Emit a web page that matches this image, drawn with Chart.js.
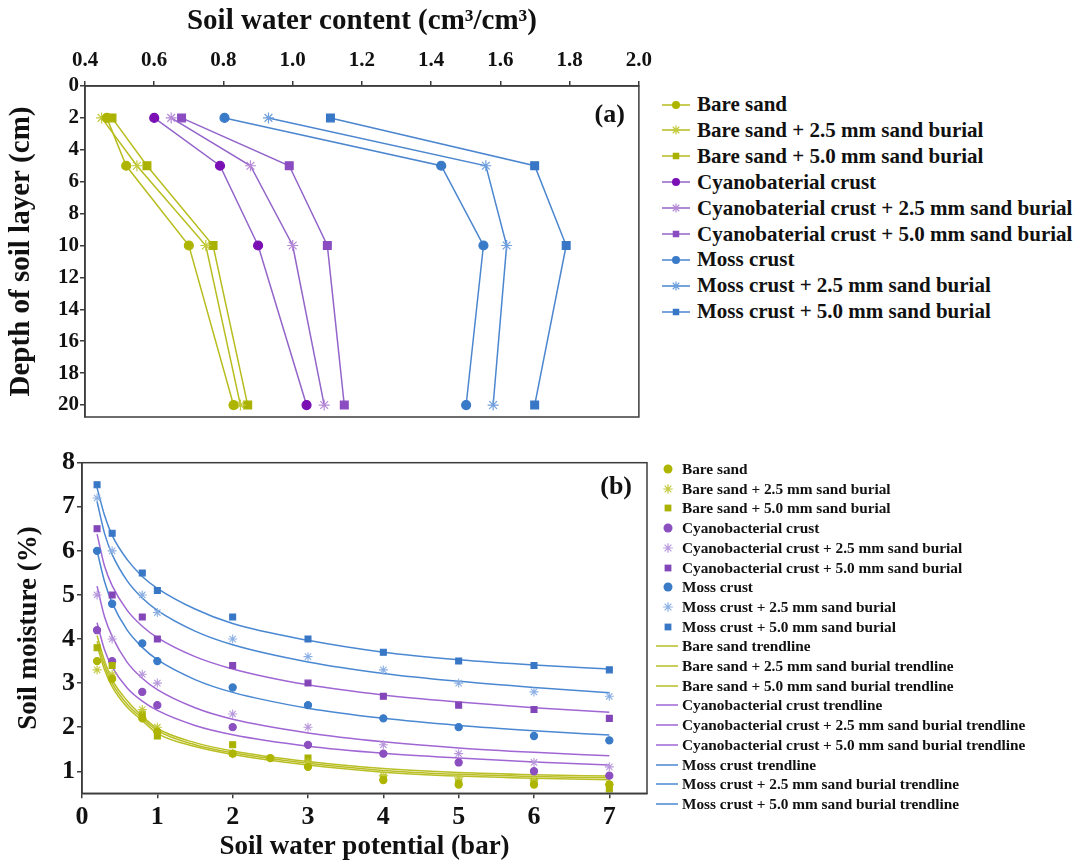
<!DOCTYPE html>
<html>
<head>
<meta charset="utf-8">
<script src="https://cdn.jsdelivr.net/npm/chart.js@4.4.0/dist/chart.umd.min.js"></script>
<style>
  body { margin: 0; background: #fff; width: 1074px; height: 863px; position: relative; overflow: hidden;
         font-family: 'Liberation Serif', 'Times New Roman', serif; }
  .box { position: absolute; }
  .legend { position: absolute; left: 0; top: 0; font-weight: bold; color: #111; white-space: nowrap; }
  .legend .row { position: absolute; display: flex; align-items: center; }
  .legend svg { flex: none; }
</style>
</head>
<body>
<div class="box" style="left:0;top:0;width:660px;height:440px"><canvas id="chartA"></canvas></div>
<div class="box" style="left:0;top:440px;width:660px;height:423px"><canvas id="chartB"></canvas></div>
<div class="legend" id="legendA"></div>
<div class="legend" id="legendB"></div>
<script>
// ---- panel (a): soil water content (cm3/cm3) at each depth ----
const depthCm = [2, 5, 10, 20];
const contentBare = [0.463, 0.519, 0.700, 0.829];
const contentBare25 = [0.448, 0.550, 0.749, 0.849];
const contentBare50 = [0.478, 0.579, 0.770, 0.870];
const contentCyano = [0.600, 0.790, 0.900, 1.040];
const contentCyano25 = [0.649, 0.878, 1.000, 1.091];
const contentCyano50 = [0.679, 0.990, 1.100, 1.149];
const contentMoss = [0.803, 1.429, 1.551, 1.501];
const contentMoss25 = [0.930, 1.558, 1.618, 1.579];
const contentMoss50 = [1.109, 1.699, 1.790, 1.699];
const depthTicks = [0, 2, 4, 6, 8, 10, 12, 14, 16, 18, 20];
const contentTicks = [0.4, 0.6, 0.8, 1.0, 1.2, 1.4, 1.6, 1.8, 2.0];

// ---- panel (b): soil moisture (%) against soil water potential (bar) ----
const potentialBar = [0.2, 0.4, 0.8, 1, 2, 3, 4, 5, 6, 7];
const potentialBareBar = [0.2, 0.4, 0.8, 1, 2, 2.5, 3, 4, 5, 6, 7];
const moistBare = [3.5, 3.1, 2.2, 1.9, 1.4, 1.3, 1.1, 0.8, 0.7, 0.7, 0.7];
const moistBare25 = [3.3, 3.2, 2.4, 2.0, 1.4, 1.2, 0.9, 0.85, 0.8, 0.7];
const moistBare50 = [3.8, 3.4, 2.3, 1.8, 1.6, 1.3, 0.85, 0.75, 0.75, 0.6];
const moistCyano = [4.2, 3.5, 2.8, 2.5, 2.0, 1.6, 1.4, 1.2, 1.0, 0.9];
const moistCyano25 = [5.0, 4.0, 3.2, 3.0, 2.3, 2.0, 1.6, 1.4, 1.2, 1.1];
const moistCyano50 = [6.5, 5.0, 4.5, 4.0, 3.4, 3.0, 2.7, 2.5, 2.4, 2.2];
const moistMoss = [6.0, 4.8, 3.9, 3.5, 2.9, 2.5, 2.2, 2.0, 1.8, 1.7];
const moistMoss25 = [7.2, 6.0, 5.0, 4.6, 4.0, 3.6, 3.3, 3.0, 2.8, 2.7];
const moistMoss50 = [7.5, 6.4, 5.5, 5.1, 4.5, 4.0, 3.7, 3.5, 3.4, 3.3];

// trendlines at these potentials
const trendBar = [0.2, 0.3, 0.4, 0.6, 0.8, 1, 1.5, 2, 3, 4, 5, 6, 7];
const trendBare = [3.95, 3.40, 3.00, 2.52, 2.20, 1.92, 1.60, 1.42, 1.18, 1.02, 0.93, 0.88, 0.85];
const trendBare25 = [3.85, 3.30, 2.92, 2.45, 2.15, 1.86, 1.56, 1.38, 1.14, 0.98, 0.89, 0.84, 0.81];
const trendBare50 = [4.08, 3.50, 3.08, 2.60, 2.25, 1.97, 1.65, 1.46, 1.22, 1.06, 0.97, 0.92, 0.89];
const trendCyano = [4.37, 3.75, 3.37, 2.89, 2.59, 2.38, 2.04, 1.83, 1.57, 1.41, 1.30, 1.21, 1.14];
const trendCyano25 = [5.20, 4.50, 4.06, 3.47, 3.11, 2.85, 2.44, 2.18, 1.87, 1.67, 1.53, 1.43, 1.35];
const trendCyano50 = [6.38, 5.65, 5.21, 4.65, 4.29, 4.03, 3.60, 3.32, 2.96, 2.73, 2.57, 2.44, 2.34];
const trendMoss = [6.00, 5.30, 4.82, 4.20, 3.81, 3.53, 3.08, 2.79, 2.43, 2.20, 2.04, 1.92, 1.82];
const trendMoss25 = [7.12, 6.39, 5.92, 5.32, 4.93, 4.65, 4.18, 3.87, 3.48, 3.22, 3.04, 2.90, 2.78];
const trendMoss50 = [7.43, 6.80, 6.35, 5.80, 5.42, 5.15, 4.68, 4.35, 3.97, 3.70, 3.53, 3.41, 3.32];
const moistTicks = [1, 2, 3, 4, 5, 6, 7, 8];
const potentialTicks = [0, 1, 2, 3, 4, 5, 6, 7];

const fontFamily = "'Liberation Serif', 'Times New Roman', serif";
const ink = '#111';
const axisColor = '#3c3c3c';

function font(size) { return { family: fontFamily, size: size, weight: 'bold' }; }
function pts(xs, ys) { return ys.map((y, i) => ({ x: xs[i], y: y })); }

// box round the plot area plus the (a)/(b) tag
const framePlugin = {
  id: 'frame',
  afterDraw(chart, args, opts) {
    const { ctx, chartArea: a } = chart;
    ctx.save();
    ctx.strokeStyle = axisColor;
    ctx.lineWidth = 1.5;
    ctx.strokeRect(a.left, a.top, a.right - a.left, a.bottom - a.top);
    ctx.font = 'bold 26px ' + fontFamily;
    ctx.fillStyle = ink;
    ctx.textAlign = 'right';
    ctx.textBaseline = 'middle';
    ctx.fillText(opts.label, a.right - opts.dx, a.top + opts.dy);
    ctx.restore();
  }
};

function axis(extra) {
  return Object.assign({
    type: 'linear',
    grid: { drawOnChartArea: false, tickLength: 5, color: axisColor, lineWidth: 1.5 },
    border: { color: axisColor, width: 1.5 }
  }, extra);
}

// ---------- panel (a) ----------
const seriesA = [
  { label: 'Bare sand', data: contentBare, color: '#aeb500', line: '#b7bd1e', style: 'circle' },
  { label: 'Bare sand + 2.5 mm sand burial', data: contentBare25, color: '#c3ca3c', line: '#b7bd1e', style: 'star' },
  { label: 'Bare sand + 5.0 mm sand burial', data: contentBare50, color: '#a9b200', line: '#b7bd1e', style: 'rect' },
  { label: 'Cyanobaterial crust', data: contentCyano, color: '#7a0fb4', line: '#9364c9', style: 'circle' },
  { label: 'Cyanobaterial crust + 2.5 mm sand burial', data: contentCyano25, color: '#b68ad6', line: '#9364c9', style: 'star' },
  { label: 'Cyanobaterial crust + 5.0 mm sand burial', data: contentCyano50, color: '#8a4cc0', line: '#9364c9', style: 'rect' },
  { label: 'Moss crust', data: contentMoss, color: '#3a7bc8', line: '#4b86cf', style: 'circle' },
  { label: 'Moss crust + 2.5 mm sand burial', data: contentMoss25, color: '#6f9fdc', line: '#4b86cf', style: 'star' },
  { label: 'Moss crust + 5.0 mm sand burial', data: contentMoss50, color: '#3877c6', line: '#4b86cf', style: 'rect' }
];
const radiusA = { circle: 4.5, rect: 5.5, star: 5.5 };

new Chart(document.getElementById('chartA'), {
  type: 'scatter',
  data: {
    datasets: seriesA.map(s => ({
      label: s.label,
      data: pts(s.data, depthCm),
      showLine: true,
      tension: 0,
      borderColor: s.line,
      borderWidth: 1.5,
      pointStyle: s.style,
      pointRadius: radiusA[s.style],
      pointBackgroundColor: s.color,
      pointBorderColor: s.color,
      pointBorderWidth: 1.2
    }))
  },
  options: {
    responsive: true,
    maintainAspectRatio: false,
    devicePixelRatio: 1,
    animation: false,
    layout: { padding: { left: 0, top: 0, right: 16, bottom: 23 } },
    plugins: { legend: { display: false }, tooltip: { enabled: false }, frame: { label: '(a)', dx: 14, dy: 29 } },
    scales: {
      x: axis({
        position: 'top', min: 0.4, max: 2.0,
        afterBuildTicks: s => { s.ticks = contentTicks.map(v => ({ value: v })); },
        afterFit: s => { s.height = 86; },
        ticks: { font: font(21), color: ink, padding: 8, maxRotation: 0, callback: v => v.toFixed(1) },
        title: { display: true, text: 'Soil water content (cm³/cm³)', font: font(29), color: ink, padding: { top: 4, bottom: 0 } }
      }),
      y: axis({
        reverse: true, min: 0, max: 20.75,
        afterBuildTicks: s => { s.ticks = depthTicks.map(v => ({ value: v })); },
        afterFit: s => { s.width = 85; },
        ticks: { font: font(21), color: ink, padding: 1 },
        title: { display: true, text: 'Depth of soil layer (cm)', font: font(29), color: ink, padding: { top: 4, bottom: 0 } }
      })
    }
  },
  plugins: [framePlugin]
});

// ---------- panel (b) ----------
const olive = '#b9bf25', purple = '#a066d4', blue = '#4a88d2';
const pointsB = [
  { label: 'Bare sand', xs: potentialBareBar, data: moistBare, color: '#aeb500', style: 'circle' },
  { label: 'Bare sand + 2.5 mm sand burial', xs: potentialBar, data: moistBare25, color: '#c3ca3c', style: 'star' },
  { label: 'Bare sand + 5.0 mm sand burial', xs: potentialBar, data: moistBare50, color: '#a9b200', style: 'rect' },
  { label: 'Cyanobacterial crust', xs: potentialBar, data: moistCyano, color: '#8b4fc0', style: 'circle' },
  { label: 'Cyanobacterial crust + 2.5 mm sand burial', xs: potentialBar, data: moistCyano25, color: '#b898dc', style: 'star' },
  { label: 'Cyanobacterial crust + 5.0 mm sand burial', xs: potentialBar, data: moistCyano50, color: '#8346b9', style: 'rect' },
  { label: 'Moss crust', xs: potentialBar, data: moistMoss, color: '#3a7bc8', style: 'circle' },
  { label: 'Moss crust + 2.5 mm sand burial', xs: potentialBar, data: moistMoss25, color: '#8cb0e4', style: 'star' },
  { label: 'Moss crust + 5.0 mm sand burial', xs: potentialBar, data: moistMoss50, color: '#3877c6', style: 'rect' }
];
const trendsB = [
  { label: 'Bare sand trendline', data: trendBare, line: olive },
  { label: 'Bare sand + 2.5 mm sand burial trendline', data: trendBare25, line: olive },
  { label: 'Bare sand + 5.0 mm sand burial trendline', data: trendBare50, line: olive },
  { label: 'Cyanobacterial crust trendline', data: trendCyano, line: purple },
  { label: 'Cyanobacterial crust + 2.5 mm sand burial trendline', data: trendCyano25, line: purple },
  { label: 'Cyanobacterial crust + 5.0 mm sand burial trendline', data: trendCyano50, line: purple },
  { label: 'Moss crust trendline', data: trendMoss, line: blue },
  { label: 'Moss crust + 2.5 mm sand burial trendline', data: trendMoss25, line: blue },
  { label: 'Moss crust + 5.0 mm sand burial trendline', data: trendMoss50, line: blue }
];
const radiusB = { circle: 3.6, rect: 4.2, star: 4.5 };

const datasetsB = pointsB.map(s => ({
  label: s.label,
  data: pts(s.xs, s.data),
  showLine: false,
  pointStyle: s.style,
  pointRadius: radiusB[s.style],
  pointBackgroundColor: s.color,
  pointBorderColor: s.color,
  pointBorderWidth: 1.1,
  order: 1
})).concat(trendsB.map(t => ({
  label: t.label,
  data: pts(trendBar, t.data),
  showLine: true,
  cubicInterpolationMode: 'monotone',
  borderColor: t.line,
  borderWidth: 1.5,
  pointRadius: 0,
  order: 2
})));

new Chart(document.getElementById('chartB'), {
  type: 'scatter',
  data: { datasets: datasetsB },
  options: {
    responsive: true,
    maintainAspectRatio: false,
    devicePixelRatio: 1,
    animation: false,
    layout: { padding: { left: 0, top: 22.7, right: 13, bottom: 0 } },
    plugins: { legend: { display: false }, tooltip: { enabled: false }, frame: { label: '(b)', dx: 15, dy: 25 } },
    scales: {
      x: axis({
        min: 0, max: 7.5,
        afterBuildTicks: s => { s.ticks = potentialTicks.map(v => ({ value: v })); },
        afterFit: s => { s.height = 69.7; },
        ticks: { font: font(26), color: ink, padding: 3, maxRotation: 0 },
        title: { display: true, text: 'Soil water potential (bar)', font: font(27), color: ink, padding: { top: 0, bottom: 0 } }
      }),
      y: axis({
        min: 0.5, max: 8,
        afterBuildTicks: s => { s.ticks = moistTicks.map(v => ({ value: v })); },
        afterFit: s => { s.width = 82; },
        ticks: { font: font(26), color: ink, padding: 2 },
        title: { display: true, text: 'Soil moisture (%)', font: font(27), color: ink, padding: { top: 13, bottom: 0 } }
      })
    }
  },
  plugins: [framePlugin]
});

// ---------- legends ----------
function markerSvg(style, cx, cy, r, color) {
  if (style === 'circle') return `<circle cx="${cx}" cy="${cy}" r="${r}" fill="${color}"/>`;
  if (style === 'rect') {
    const s = r * Math.SQRT2;
    return `<rect x="${cx - s / 2}" y="${cy - s / 2}" width="${s}" height="${s}" fill="${color}"/>`;
  }
  // asterisk like Chart.js 'star'
  let d = '';
  for (let k = 0; k < 4; k++) {
    const a = k * Math.PI / 4, dx = Math.cos(a) * r, dy = Math.sin(a) * r;
    d += `M${cx - dx} ${cy - dy}L${cx + dx} ${cy + dy}`;
  }
  return `<path d="${d}" stroke="${color}" stroke-width="1.2" fill="none"/>`;
}

function buildLegend(el, items, o) {
  items.forEach((it, i) => {
    const row = document.createElement('div');
    row.className = 'row';
    row.style.left = o.x + 'px';
    row.style.top = (o.y0 + i * o.dy - o.h / 2) + 'px';
    row.style.height = o.h + 'px';
    let svg = `<svg width="${o.w}" height="${o.h}">`;
    if (it.line) svg += `<line x1="${o.lx1}" y1="${o.h / 2}" x2="${o.lx2}" y2="${o.h / 2}" stroke="${it.line}" stroke-width="1.5"/>`;
    if (it.style) svg += markerSvg(it.style, o.mx, o.h / 2, o.r[it.style], it.color);
    svg += '</svg>';
    row.innerHTML = svg + `<span style="margin-left:${o.gap}px;font-size:${o.font}px">${it.label}</span>`;
    el.appendChild(row);
  });
}

buildLegend(document.getElementById('legendA'), seriesA,
  { x: 660, y0: 104.5, dy: 25.9, h: 24, w: 32, lx1: 2, lx2: 30, mx: 16, gap: 5, font: 21, r: { circle: 4, rect: 4.6, star: 4.6 } });

const legendItemsB = pointsB.map(p => ({ label: p.label, color: p.color, style: p.style }))
  .concat(trendsB.map(t => ({ label: t.label, line: t.line })));
buildLegend(document.getElementById('legendB'), legendItemsB,
  { x: 654, y0: 469, dy: 19.7, h: 18, w: 26, lx1: 2, lx2: 24, mx: 14, gap: 2, font: 15.3, r: { circle: 4.5, rect: 4.8, star: 4.8 } });
</script>
</body>
</html>
